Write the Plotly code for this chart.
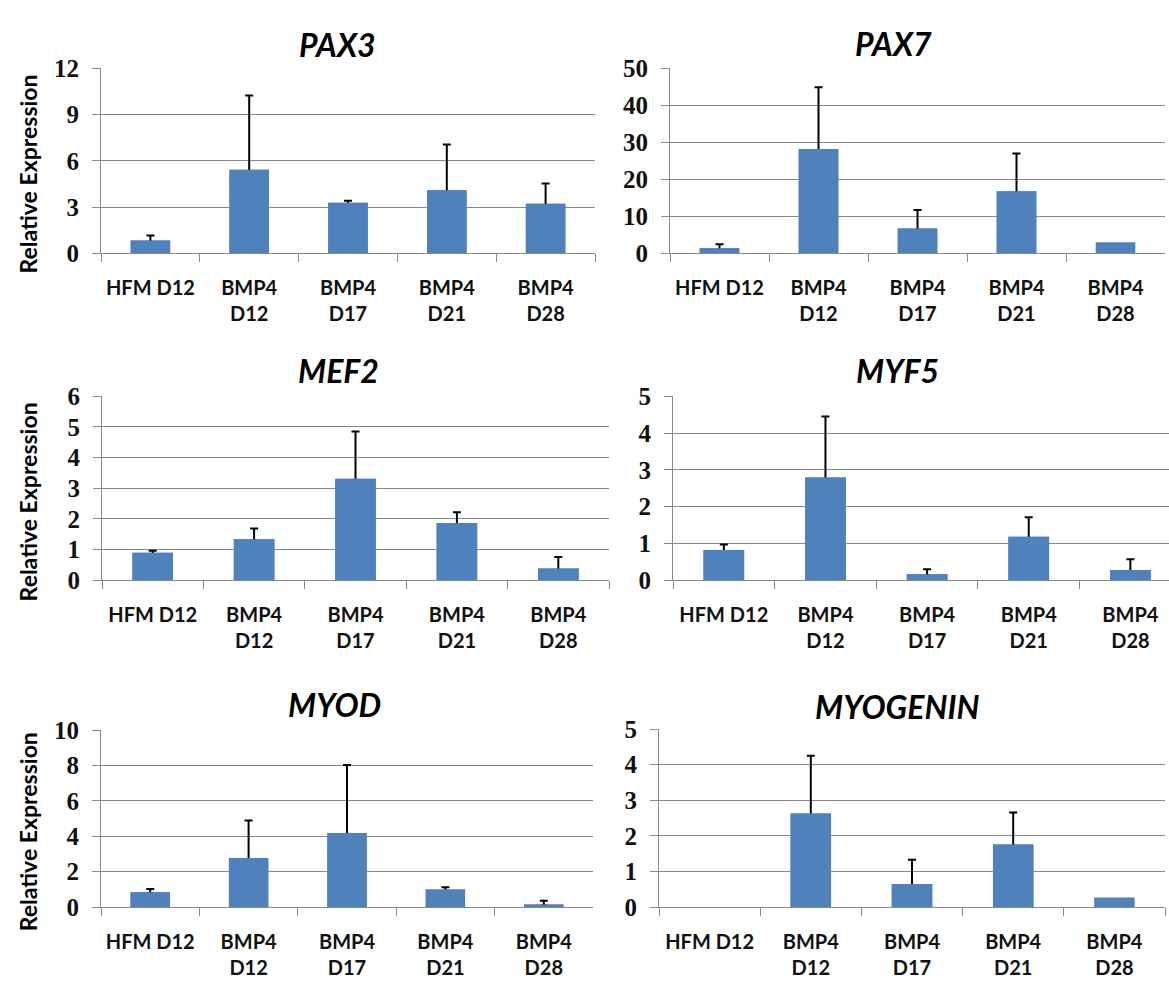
import plotly.graph_objects as go

categories = ["HFM D12", "BMP4<br>D12", "BMP4<br>D17", "BMP4<br>D21", "BMP4<br>D28"]

genes = ["PAX3", "PAX7", "MEF2", "MYF5", "MYOD", "MYOGENIN"]

pax3_mean = [0.84, 5.43, 3.28, 4.10, 3.22]
pax3_top = [1.16, 10.25, 3.41, 7.07, 4.53]
pax7_mean = [1.4, 28.2, 6.7, 16.8, 3.0]
pax7_top = [2.46, 44.9, 11.7, 27.0, 3.0]
mef2_mean = [0.90, 1.34, 3.31, 1.87, 0.38]
mef2_top = [0.96, 1.69, 4.85, 2.22, 0.76]
myf5_mean = [0.82, 2.79, 0.16, 1.18, 0.28]
myf5_top = [0.97, 4.45, 0.30, 1.71, 0.57]
myod_mean = [0.84, 2.77, 4.18, 0.99, 0.15]
myod_top = [1.02, 4.89, 8.03, 1.13, 0.36]
myog_mean = [0.0, 2.63, 0.65, 1.76, 0.27]
myog_top = [0.0, 4.25, 1.33, 2.66, 0.27]

y_max = [12, 50, 6, 5, 10, 5]
y_step = [3, 10, 1, 1, 2, 1]

means = [pax3_mean, pax7_mean, mef2_mean, myf5_mean, myod_mean, myog_mean]
tops = [pax3_top, pax7_top, mef2_top, myf5_top, myod_top, myog_top]

W, H = 1169, 998
# pixel boxes: (left, right, top, bottom, x range max)
boxes = [
    (101, 595, 57, 247, 4.5),
    (670, 1165, 57, 247, 4.5),
    (102, 609, 394, 583, 4.5),
    (673, 1169, 394, 583, 4.38),
    (101, 593, 737, 919, 4.5),
    (659, 1165, 736, 919, 4.5),
]
title_pos = [(337, 32), (893, 31), (338, 367), (897, 367), (334, 711), (897, 713)]
ytitle_pos = [(28, 166), (28, 503), (28, 842)]

BAR = "#4F81BD"
GRID = "#8A8A8A"

fig = go.Figure()
layout = dict(
    width=W, height=H, margin=dict(l=0, r=0, t=0, b=0),
    paper_bgcolor="white", plot_bgcolor="white", showlegend=False,
    bargap=0.6, barmode="overlay",
)
annotations = []
for i, g in enumerate(genes):
    n = "" if i == 0 else str(i + 1)
    m = means[i]
    idx = [k for k in range(len(m)) if tops[i][k] > m[k]]
    ex = [categories[k] for k in idx]
    ey = [m[k] for k in idx]
    up = [tops[i][k] - m[k] for k in idx]
    down = [m[k] * 0.5 for k in idx]
    # bars carrying plus-only error bars (lower part hidden under the overlay bar)
    fig.add_trace(go.Bar(
        x=ex, y=ey, xaxis="x" + n, yaxis="y" + n,
        marker=dict(color=BAR, line=dict(width=0)),
        error_y=dict(type="data", array=up, arrayminus=down, symmetric=False,
                     color="black", thickness=2, width=4),
    ))
    fig.add_trace(go.Bar(
        x=categories, y=m, xaxis="x" + n, yaxis="y" + n,
        marker=dict(color=BAR, line=dict(width=0)),
    ))
    l, r, t, b, xr = boxes[i]
    layout["xaxis" + n] = dict(
        domain=[l / W, r / W], anchor="y" + n, type="category",
        categoryorder="array", categoryarray=categories,
        range=[-0.5, xr], showline=True, linecolor=GRID, linewidth=1,
        ticks="outside", tickson="boundaries", ticklen=8, tickcolor=GRID,
        showgrid=False, ticklabelstandoff=17,
        tickfont=dict(family="Lato", size=20, color="#111111", weight="bold"),
        fixedrange=True,
    )
    layout["yaxis" + n] = dict(
        domain=[1 - b / H, 1 - t / H], anchor="x" + n,
        range=[0, y_max[i]], dtick=y_step[i], tick0=0,
        showline=True, linecolor=GRID, linewidth=1,
        ticks="outside", ticklen=8, tickcolor=GRID,
        showgrid=True, gridcolor=GRID, gridwidth=1, zeroline=False,
        ticklabelstandoff=8,
        tickfont=dict(family="Liberation Serif", size=25, color="#111111", weight="bold"),
        fixedrange=True,
    )
    tx, ty = title_pos[i]
    annotations.append(dict(
        text="<b><i>" + g + "</i></b>", x=tx / W, y=1 - ty / H,
        xref="paper", yref="paper", showarrow=False, xanchor="center", yanchor="middle",
        font=dict(family="Lato", size=32, color="black"),
    ))

for (yx, yy) in ytitle_pos:
    annotations.append(dict(
        text="<b>Relative Expression</b>", x=yx / W, y=1 - yy / H,
        xref="paper", yref="paper", showarrow=False, textangle=-90,
        xanchor="center", yanchor="middle",
        font=dict(family="Lato", size=23, color="black"),
    ))

layout["annotations"] = annotations
fig.update_layout(**layout)
fig.write_html("out.html")
